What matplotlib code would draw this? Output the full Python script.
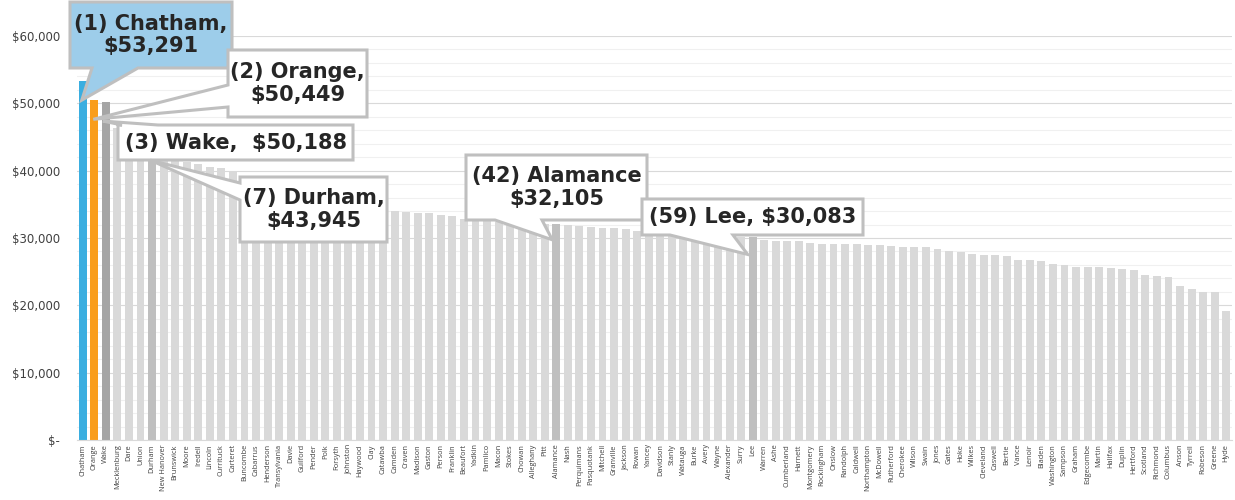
import numpy as np
import matplotlib
matplotlib.use("Agg")
import matplotlib.pyplot as plt
from matplotlib.patches import Polygon
from matplotlib.transforms import IdentityTransform
from matplotlib.ticker import FuncFormatter, MultipleLocator

# county order (ranked) and median household income
counties = ["Chatham", "Orange", "Wake", "Mecklenburg", "Dare", "Union", "Durham", "New Hanover",
            "Brunswick", "Moore", "Iredell", "Lincoln", "Currituck", "Carteret", "Buncombe",
            "Cabarrus", "Henderson", "Transylvania", "Davie", "Guilford", "Pender", "Polk",
            "Forsyth", "Johnston", "Haywood", "Clay", "Catawba", "Camden", "Craven", "Madison",
            "Gaston", "Person", "Franklin", "Beaufort", "Yadkin", "Pamlico", "Macon", "Stokes",
            "Chowan", "Alleghany", "Pitt", "Alamance", "Nash", "Perquimans", "Pasquotank",
            "Mitchell", "Granville", "Jackson", "Rowan", "Yancey", "Davidson", "Stanly",
            "Watauga", "Burke", "Avery", "Wayne", "Alexander", "Surry", "Lee", "Warren", "Ashe",
            "Cumberland", "Harnett", "Montgomery", "Rockingham", "Onslow", "Randolph",
            "Caldwell", "Northampton", "McDowell", "Rutherford", "Cherokee", "Wilson", "Swain",
            "Jones", "Gates", "Hoke", "Wilkes", "Cleveland", "Caswell", "Bertie", "Vance",
            "Lenoir", "Bladen", "Washington", "Sampson", "Graham", "Edgecombe", "Martin",
            "Halifax", "Duplin", "Hertford", "Scotland", "Richmond", "Columbus", "Anson",
            "Tyrrell", "Robeson", "Greene", "Hyde"]

income = [53291, 50449, 50188, 46300, 45400, 44600, 43945, 42300, 41800, 41300,
          40950, 40550, 40350, 39850, 38900, 38300, 37800, 37300, 36900, 36500,
          36100, 35700, 35400, 35000, 34700, 34400, 34150, 34060, 33910, 33760,
          33750, 33420, 33270, 32780, 32650, 32600, 32450, 32400, 32300, 32250,
          32150, 32105, 31930, 31780, 31680, 31530, 31440, 31290, 31090, 31000,
          30950, 30850, 30750, 30600, 30500, 30400, 30300, 30150, 30083, 29700,
          29600, 29600, 29580, 29300, 29160, 29150, 29110, 29060, 29010, 28960,
          28810, 28710, 28660, 28610, 28310, 28010, 27920, 27570, 27520, 27500,
          27280, 26780, 26680, 26540, 26190, 25990, 25740, 25730, 25690, 25500,
          25400, 25250, 24460, 24360, 24210, 22820, 22430, 22030, 22000, 19200]

# labelled counties
callout_counties = ["Chatham", "Orange", "Wake", "Durham", "Alamance", "Lee"]
callout_text = ["(1) Chatham,\n$53,291", "(2) Orange,\n$50,449", "(3) Wake,  $50,188",
                "(7) Durham,\n$43,945", "(42) Alamance\n$32,105", "(59) Lee, $30,083"]

W, H = 1235, 500
fig = plt.figure(figsize=(W / 100, H / 100), dpi=100)
ax = fig.add_axes([77 / W, 60 / H, 1155 / W, 404 / H])

colors = ["#d9d9d9"] * len(counties)
colors[counties.index("Chatham")] = "#3aaee0"
colors[counties.index("Orange")] = "#f99d1c"
colors[counties.index("Wake")] = "#a5a5a5"
for c in ["Durham", "Alamance", "Lee"]:
    colors[counties.index(c)] = "#bfbfbf"

x = np.arange(len(counties))
ax.bar(x, income, width=0.68, color=colors, zorder=2)

ax.set_xlim(-0.5, len(counties) - 0.5)
ax.set_ylim(0, 60000)
ax.yaxis.set_major_locator(MultipleLocator(10000))
ax.yaxis.set_minor_locator(MultipleLocator(2000))
ax.yaxis.set_major_formatter(FuncFormatter(lambda v, p: "$-" if v == 0 else "${:,.0f}".format(v)))
ax.grid(axis="y", which="major", color="#d9d9d9", lw=0.8, zorder=0)
ax.grid(axis="y", which="minor", color="#f0f0f0", lw=0.8, zorder=0)
ax.set_xticks(x)
ax.set_xticklabels(counties, rotation=90, fontsize=5.3, color="#404040", family="Open Sans")
ax.tick_params(axis="both", which="both", length=0)
ax.tick_params(axis="y", labelsize=8.5, labelcolor="#404040", pad=12)
ax.tick_params(axis="x", pad=3)
for s in ["top", "right", "left"]:
    ax.spines[s].set_visible(False)
ax.spines["bottom"].set_color("#d9d9d9")


def callout(name, text, box, side, base, tip_off, face="white"):
    # box in reference pixels (left, top, right, bottom), y measured from top
    i = counties.index(name)
    tx, ty = ax.transData.transform((i, income[i]))
    tx, ty = tx + tip_off[0], ty - tip_off[1]
    x0, x1 = box[0], box[2]
    y1, y0 = H - box[1], H - box[3]
    if side == "bottom":
        pts = [(x0, y0), (base[0], y0), (tx, ty), (base[1], y0), (x1, y0), (x1, y1), (x0, y1)]
    elif side == "left":
        pts = [(x0, y0), (x1, y0), (x1, y1), (x0, y1), (x0, H - base[0]), (tx, ty), (x0, H - base[1])]
    else:
        pts = [(x0, y0), (x1, y0), (x1, y1), (base[1], y1), (tx, ty), (base[0], y1), (x0, y1)]
    poly = Polygon(pts, closed=True, transform=IdentityTransform(), facecolor=face,
                   edgecolor="#bfbfbf", lw=2.2, zorder=5, clip_on=False)
    fig.add_artist(poly)
    fig.text((x0 + x1) / 2 / W, (y0 + y1) / 2 / H, text, ha="center", va="center",
             fontsize=15, fontweight="bold", color="#262626", linespacing=1.15,
             zorder=6, family="DejaVu Sans")


boxes = [(70, 2, 232, 68), (228, 50, 367, 117), (118, 125, 353, 160),
         (240, 177, 387, 242), (466, 155, 647, 220), (642, 199, 863, 235)]
sides = ["bottom", "left", "top", "left", "bottom", "bottom"]
bases = [(92, 138), (85, 107), (122, 158), (183, 200), (495, 542), (670, 733)]
tip_offsets = [(-1, 19), (-1, 19), (-3, 19), (-2, 16), (-4, 16), (-5, 17)]
faces = ["#9dcdea", "white", "white", "white", "white", "white"]

for k in range(len(callout_counties)):
    callout(callout_counties[k], callout_text[k], boxes[k], sides[k], bases[k],
            tip_offsets[k], faces[k])

fig.savefig("out.png", dpi=100)
